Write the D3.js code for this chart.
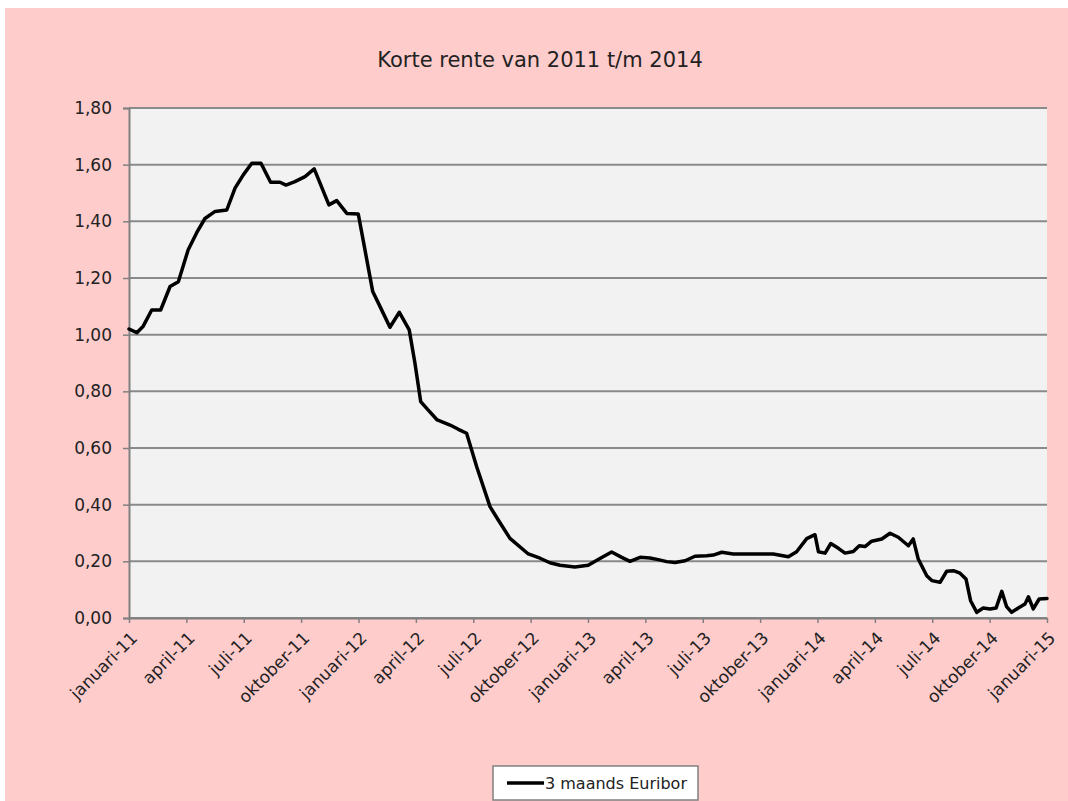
<!DOCTYPE html>
<html>
<head>
<meta charset="utf-8">
<script src="https://cdn.jsdelivr.net/npm/d3@7"></script>
<style>
  body { margin: 0; background: #ffffff; }
  svg { display: block; }
  text { font-family: "DejaVu Sans", Verdana, sans-serif; fill: #222; }
</style>
</head>
<body>
<svg id="chart" width="1068" height="801"></svg>
<script>
// ---- data ----
const title = "Korte rente van 2011 t/m 2014";
const seriesName = "3 maands Euribor";
// time as decimal years
const years = [
  2011.000, 2011.034, 2011.062, 2011.099, 2011.138, 2011.179, 2011.215, 2011.258, 2011.295, 2011.331,
  2011.375, 2011.426, 2011.462, 2011.498, 2011.535, 2011.575, 2011.617, 2011.658, 2011.684, 2011.723,
  2011.767, 2011.807, 2011.871, 2011.905, 2011.949, 2011.999, 2012.028, 2012.062, 2012.094, 2012.137,
  2012.178, 2012.221, 2012.246, 2012.271, 2012.300, 2012.343, 2012.399, 2012.435, 2012.471, 2012.515,
  2012.573, 2012.609, 2012.660, 2012.740, 2012.791, 2012.834, 2012.878, 2012.943, 2013.001, 2013.052,
  2013.103, 2013.147, 2013.183, 2013.227, 2013.270, 2013.306, 2013.343, 2013.379, 2013.423, 2013.466,
  2013.517, 2013.546, 2013.583, 2013.633, 2013.684, 2013.735, 2013.807, 2013.873, 2013.909, 2013.953,
  2013.989, 2014.004, 2014.033, 2014.058, 2014.091, 2014.120, 2014.156, 2014.182, 2014.207, 2014.236,
  2014.280, 2014.316, 2014.352, 2014.396, 2014.417, 2014.439, 2014.476, 2014.498, 2014.534, 2014.563,
  2014.592, 2014.621, 2014.647, 2014.667, 2014.694, 2014.722, 2014.752, 2014.778, 2014.803, 2014.824,
  2014.846, 2014.875, 2014.904, 2014.919, 2014.940, 2014.966, 2015.000
];
const rates = [
  1.020, 1.007, 1.030, 1.087, 1.087, 1.170, 1.187, 1.300, 1.360, 1.410,
  1.435, 1.440, 1.517, 1.564, 1.605, 1.605, 1.538, 1.538, 1.528, 1.540,
  1.558, 1.585, 1.458, 1.473, 1.428, 1.426, 1.300, 1.152, 1.099, 1.026,
  1.079, 1.017, 0.899, 0.764, 0.737, 0.699, 0.681, 0.666, 0.652, 0.534,
  0.393, 0.346, 0.281, 0.226, 0.211, 0.195, 0.186, 0.180, 0.186, 0.210,
  0.233, 0.214, 0.200, 0.214, 0.212, 0.206, 0.199, 0.196, 0.202, 0.218,
  0.220, 0.222, 0.232, 0.226, 0.226, 0.226, 0.226, 0.216, 0.234, 0.280,
  0.294, 0.234, 0.229, 0.263, 0.246, 0.229, 0.235, 0.255, 0.252, 0.271,
  0.279, 0.299, 0.285, 0.255, 0.279, 0.208, 0.149, 0.132, 0.126, 0.165,
  0.167, 0.158, 0.138, 0.061, 0.020, 0.035, 0.032, 0.035, 0.094, 0.040,
  0.020, 0.035, 0.049, 0.075, 0.032, 0.067, 0.069
];
const xTickValues = [2011, 2011.25, 2011.5, 2011.75, 2012, 2012.25, 2012.5, 2012.75,
  2013, 2013.25, 2013.5, 2013.75, 2014, 2014.25, 2014.5, 2014.75, 2015];
const xTickLabels = ["januari-11", "april-11", "juli-11", "oktober-11", "januari-12", "april-12",
  "juli-12", "oktober-12", "januari-13", "april-13", "juli-13", "oktober-13", "januari-14",
  "april-14", "juli-14", "oktober-14", "januari-15"];
const yTickValues = [0, 0.2, 0.4, 0.6, 0.8, 1.0, 1.2, 1.4, 1.6, 1.8];
const yTickLabels = ["0,00", "0,20", "0,40", "0,60", "0,80", "1,00", "1,20", "1,40", "1,60", "1,80"];

// ---- layout ----
const W = 1068, H = 801;
const plot = { left: 129, right: 1047, top: 108, bottom: 618 };

const svg = d3.select("#chart");

svg.append("rect").attr("x", 5).attr("y", 8).attr("width", W - 5).attr("height", H - 8)
  .attr("fill", "#ffcccc");

svg.append("rect").attr("x", plot.left).attr("y", plot.top)
  .attr("width", plot.right - plot.left).attr("height", plot.bottom - plot.top)
  .attr("fill", "#f2f2f2");

const x = d3.scaleLinear().domain([2011, 2015]).range([plot.left, plot.right]);
const y = d3.scaleLinear().domain([0, 1.8]).range([plot.bottom, plot.top]);

// gridlines
svg.append("g").selectAll("line").data(yTickValues).join("line")
  .attr("x1", plot.left).attr("x2", plot.right)
  .attr("y1", d => y(d)).attr("y2", d => y(d))
  .attr("stroke", "#8a8a8a").attr("stroke-width", 2);

// y axis
const yAxis = d3.axisLeft(y).tickValues(yTickValues)
  .tickFormat((d, i) => yTickLabels[i]).tickSize(6).tickPadding(11);
const gy = svg.append("g").attr("transform", `translate(${plot.left},0)`).call(yAxis);
gy.select(".domain").attr("stroke", "#808080").attr("stroke-width", 2);
gy.selectAll(".tick line").attr("stroke", "#808080").attr("stroke-width", 1.5);
gy.selectAll(".tick text").attr("font-size", 17).attr("fill", "#1a1a1a")
  .attr("font-family", "DejaVu Sans, Verdana, sans-serif");

// x axis
const xAxis = d3.axisBottom(x).tickValues(xTickValues)
  .tickFormat((d, i) => xTickLabels[i]).tickSize(5).tickSizeOuter(0);
const gx = svg.append("g").attr("transform", `translate(0,${plot.bottom})`).call(xAxis);
gx.select(".domain").attr("stroke", "#808080").attr("stroke-width", 2);
gx.selectAll(".tick line").attr("stroke", "#808080").attr("stroke-width", 1.5);
gx.selectAll(".tick text")
  .attr("font-size", 17).attr("fill", "#1a1a1a")
  .attr("font-family", "DejaVu Sans, Verdana, sans-serif")
  .attr("text-anchor", "end")
  .attr("dy", null)
  .attr("y", 0)
  .attr("transform", "translate(9,21) rotate(-45)");

// line
const line = d3.line().x((d, i) => x(years[i])).y(d => y(d));
svg.append("path").datum(rates).attr("d", line)
  .attr("fill", "none").attr("stroke", "#000").attr("stroke-width", 3.5)
  .attr("stroke-linejoin", "round").attr("stroke-linecap", "round");

// title
svg.append("text").attr("x", 540).attr("y", 67).attr("text-anchor", "middle")
  .attr("font-size", 21).attr("fill", "#1a1a1a").text(title);

// legend
const lg = svg.append("g");
lg.append("rect").attr("x", 493).attr("y", 766).attr("width", 205).attr("height", 34)
  .attr("fill", "#fff").attr("stroke", "#808080").attr("stroke-width", 1.5);
lg.append("line").attr("x1", 507).attr("x2", 544).attr("y1", 783).attr("y2", 783)
  .attr("stroke", "#000").attr("stroke-width", 3.5);
lg.append("text").attr("x", 545).attr("y", 789).attr("font-size", 16).attr("fill", "#1a1a1a").text(seriesName);
</script>
</body>
</html>
